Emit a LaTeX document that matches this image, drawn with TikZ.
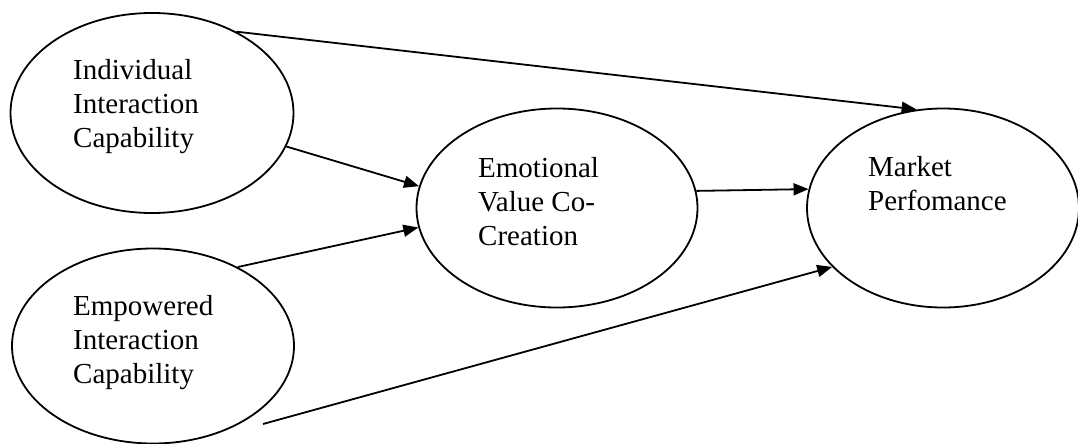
\documentclass[tikz,border=0pt]{standalone}
\usepackage{fontspec}
\setmainfont{Liberation Serif}
\usetikzlibrary{shapes.geometric, arrows.meta, positioning}

\begin{document}
\begin{tikzpicture}[x=1pt, y=-1pt,
        factor/.style={ellipse, draw, line width=1.8pt, inner sep=0pt},
        factortext/.style={anchor=base west, align=left, inner sep=0pt, font=\fontsize{29}{34}\selectfont},
        effect/.style={-{Triangle[length=15pt, width=12pt]}, line width=1.8pt}]
    \useasboundingbox (0,0) rectangle (1078,444);

    % constructs
    \node[factor, minimum width=283pt, minimum height=200pt] (ind) at (152,113) {};
    \node[factor, minimum width=282pt, minimum height=195pt] (emp) at (153,346) {};
    \node[factor, minimum width=281pt, minimum height=199pt] (emo) at (557,208) {};
    \node[factor, minimum width=272pt, minimum height=199pt] (mkt) at (943,208) {};

    % base anchor sits on the last line
    \node[factortext] (indtext) at (73,147) {Individual\\Interaction\\Capability};
    \node[factortext] (emptext) at (73,383) {Empowered\\Interaction\\Capability};
    \node[factortext] (emotext) at (478,245) {Emotional\\Value Co-\\Creation};
    \node[factortext] (mkttext) at (868,210) {Market\\Perfomance};

    % paths
    \coordinate (empfoot) at (263,424);
    \draw[effect] (ind.44) -- (mkt.105);
    \draw[effect] (ind.-14) -- (emo.171);
    \draw[effect] (emp.43) -- (emo.188);
    \draw[effect] (emo.7) -- (mkt.172);
    \draw[effect] (empfoot) -- (mkt.208);
\end{tikzpicture}
\end{document}
